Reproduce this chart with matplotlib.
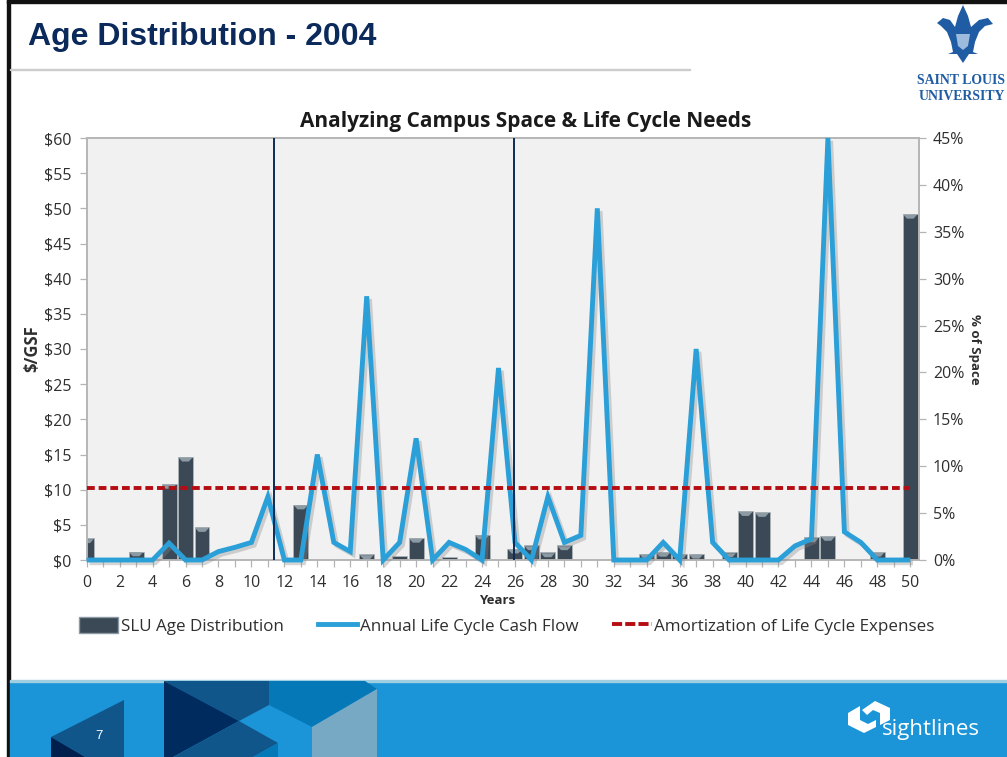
import matplotlib
matplotlib.use("Agg")
import matplotlib.pyplot as plt
import matplotlib.patheffects as pe
from matplotlib.lines import Line2D
from matplotlib.patches import Patch, Polygon, Rectangle
from matplotlib.ticker import FuncFormatter, MultipleLocator

plt.rcParams["font.family"] = ["Open Sans", "DejaVu Sans"]

years = list(range(51))
age_pct = [2.3, 0, 0, 0.9, 0, 8.1, 11.0, 3.5, 0, 0, 0, 0, 0, 5.9, 0, 0, 0, 0.6, 0, 0.4,
           2.35, 0, 0.35, 0, 2.7, 0, 1.2, 1.55, 0.8, 1.55, 0, 0, 0, 0, 0.65, 0.85, 0.65,
           0.65, 0, 0.8, 5.2, 5.1, 0, 0, 2.4, 2.55, 0, 0, 0.85, 0, 36.9]
cash_flow = [0, 0, 0, 0, 0, 2.4, 0, 0, 1.2, 1.8, 2.5, 9, 0, 0, 15, 2.5, 1.2, 37.5, 0, 2.5,
             17.3, 0, 2.5, 1.5, 0, 27.3, 2.5, 0, 9, 2.5, 3.5, 50, 0, 0, 0, 2.5, 0, 30, 2.5,
             0, 0, 0, 0, 2, 3, 60, 4, 2.5, 0, 0, 0]
amortization = [10.2] * 51
phase_lines = [11.4, 25.95]

DARK = "#3a4955"
BLUE = "#2a9fd8"
RED = "#b50d12"
NAVY = "#0d2b55"
TEXT = "#2f2f2f"
W, H = 1007, 757

fig = plt.figure(figsize=(W / 100, H / 100), dpi=100, facecolor="white")

# slide furniture, in pixel coordinates
bg = fig.add_axes([0, 0, 1, 1], zorder=-5)
bg.set_xlim(0, W)
bg.set_ylim(H, 0)
bg.axis("off")
bg.add_patch(Rectangle((7, 0), 3, H, color="#111111"))
bg.add_patch(Rectangle((7, 0), W, 3, color="#111111"))
bg.add_patch(Rectangle((10, 68.5), 680, 1.5, color="#cccccc"))
bg.add_patch(Rectangle((10, 681), W, H - 681, color="#1b95d8"))
bg.add_patch(Rectangle((10, 680), W, 1.5, color="#9fcfe0"))
shapes = [
    ("#11568a", [(124, 700), (124, 757), (85, 757), (51, 737)]),
    ("#001f4d", [(51, 737), (85, 757), (51, 757)]),
    ("#11568a", [(164, 681), (269, 681), (269, 705), (239, 721)]),
    ("#002b5f", [(164, 681), (239, 721), (173, 757), (164, 757)]),
    ("#11568a", [(239, 721), (278, 743), (253, 757), (173, 757)]),
    ("#0578b8", [(278, 743), (278, 757), (253, 757)]),
    ("#0578b8", [(269, 681), (365, 681), (377, 689), (312, 727), (269, 705)]),
    ("#78a9c4", [(312, 727), (377, 689), (377, 757), (312, 757)]),
]
for color, pts in shapes:
    bg.add_patch(Polygon(pts, closed=True, color=color, lw=0))
# crest
crest = [(963, 5), (968, 16), (971, 27), (979, 20), (988, 18), (993, 24), (985, 26), (979, 32),
         (975, 42), (973, 52), (978, 54), (969, 54), (963, 63), (957, 54), (948, 54), (953, 52),
         (951, 42), (947, 32), (941, 26), (937, 23), (943, 18), (950, 20), (955, 27), (958, 16)]
bg.add_patch(Polygon(crest, closed=True, color="#1f5ca3", lw=0))
bg.add_patch(Polygon([(956, 34), (970, 34), (968, 46), (963, 50), (958, 46)], closed=True,
                     color="#9dbbdc", lw=0))
# sightlines mark
bg.add_patch(Polygon([(862, 710), (875, 701), (890, 708), (890, 720), (880, 725), (880, 713),
                      (873, 710), (867, 715)], closed=True, color="white", lw=0))
bg.add_patch(Polygon([(848, 713), (860, 706), (860, 720), (868, 724), (876, 720), (876, 727),
                      (864, 733), (848, 725)], closed=True, color="white", lw=0))

bg.text(28, 37, "Age Distribution - 2004", family="Liberation Sans", weight="bold",
        fontsize=23, color="#0b2a5b", va="center", ha="left")
bg.text(917, 80, "SAINT LOUIS", family="Liberation Serif", weight="bold", fontsize=9.9,
        color="#1f5ca3", va="center", ha="left")
bg.text(919, 96, "UNIVERSITY", family="Liberation Serif", weight="bold", fontsize=9.9,
        color="#1f5ca3", va="center", ha="left")
bg.text(99, 736, "7", family="Liberation Sans", fontsize=9.5, color="white", ha="center", va="center")
bg.text(882, 730, "sightlines", fontsize=16, color="white", ha="left", va="center")
bg.text(525.5, 121, "Analyzing Campus Space & Life Cycle Needs", fontsize=15, weight="bold",
        color="#1a1a1a", ha="center", va="center")

# chart
left, right, top, bottom = 86.7, 919, 138, 560
ax = fig.add_axes([left / W, 1 - bottom / H, (right - left) / W, (bottom - top) / H])
ax2 = ax.twinx()
ax.set_zorder(ax2.get_zorder() + 1)
ax.patch.set_visible(False)
ax2.patch.set_visible(True)
ax2.patch.set_facecolor("#f1f1f1")

ax.set_xlim(0, 50.53)
ax.set_ylim(0, 60)
ax2.set_ylim(0, 45)

ax2.bar(years, age_pct, width=0.91, color=DARK, edgecolor="#aeb4b8", linewidth=0.6)
# bevel on bar tops
bevel = 0.5
for x, v in zip(years, age_pct):
    if v > bevel:
        ax2.add_patch(Polygon([(max(x - 0.42, 0), v - 0.08), (x + 0.42, v - 0.08),
                               (x + 0.2, v - bevel), (max(x - 0.2, 0), v - bevel)],
                              closed=True, color="#8c9aa4", lw=0))

line, = ax.plot(years, cash_flow, color=BLUE, lw=3.5, clip_on=False, solid_joinstyle="miter",
                solid_capstyle="butt", zorder=3)
line.set_path_effects([pe.SimpleLineShadow(offset=(2, -2), shadow_color="#888888", alpha=0.35),
                       pe.Normal()])
ax.plot(years, amortization, color=RED, lw=2.8, ls=(0, (2, 1)), zorder=4)
for x in phase_lines:
    ax.axvline(x, color=NAVY, lw=1.4, zorder=5)

ax.xaxis.set_major_locator(MultipleLocator(2))
ax.xaxis.set_minor_locator(MultipleLocator(1))
ax.yaxis.set_major_locator(MultipleLocator(5))
ax2.yaxis.set_major_locator(MultipleLocator(5))
ax.yaxis.set_major_formatter(FuncFormatter(lambda v, _: f"${v:.0f}"))
ax2.yaxis.set_major_formatter(FuncFormatter(lambda v, _: f"{v:.0f}%"))

for a in (ax, ax2):
    for s in a.spines.values():
        s.set_color("#b4b4b4")
        s.set_linewidth(1.1)
    a.tick_params(axis="both", which="major", length=5, width=0.9, color="#b4b4b4",
                  labelsize=11.5, labelcolor=TEXT, pad=6)
ax2.tick_params(axis="y", which="major", pad=5)
ax.tick_params(axis="x", which="minor", length=5, width=0.9, color="#b4b4b4")

ax.set_xlabel("Years", fontsize=9.5, weight="bold", color=TEXT)
ax.xaxis.set_label_coords((497 - left) / (right - left), -(600 - bottom) / (bottom - top))
ax.xaxis.label.set_va("center")
ax.set_ylabel("$/GSF", fontsize=12, weight="bold", color=TEXT)
ax.yaxis.set_label_coords(-(left - 32) / (right - left), 0.5)
ax.yaxis.label.set_va("center")
ax2.set_ylabel("% of Space", fontsize=9.5, weight="bold", color=TEXT, rotation=270)
ax2.yaxis.set_label_coords((974 - left) / (right - left), 0.5)
ax2.yaxis.label.set_va("center")

handles = [
    Patch(facecolor=DARK, edgecolor="#8c9aa4", label="SLU Age Distribution"),
    Line2D([0], [0], color=BLUE, lw=3.5, label="Annual Life Cycle Cash Flow"),
    Line2D([0], [0], color=RED, lw=2.8, ls=(0, (2.6, 0.8)), label="Amortization of Life Cycle Expenses"),
]
fig.legend(handles=handles, loc="center", bbox_to_anchor=(507 / W, 1 - 626 / H), ncols=3,
           frameon=False, fontsize=12.25, labelcolor=TEXT, handlelength=2.3, handleheight=1.1,
           handletextpad=0.16, columnspacing=2.0)

fig.savefig("out.png", dpi=100)
